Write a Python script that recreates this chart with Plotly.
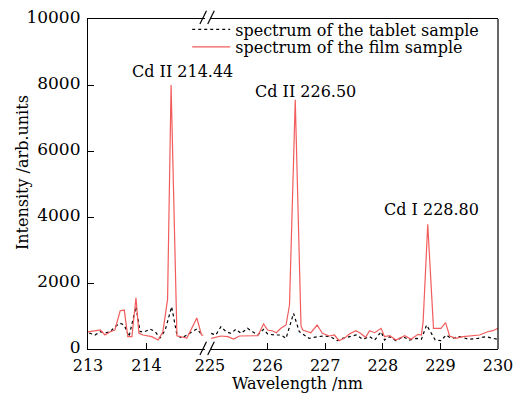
import plotly.graph_objects as go

# ---- data ----
film_wl_a = [213.00, 213.12, 213.21, 213.29, 213.38, 213.46, 213.55, 213.62, 213.68, 213.75,
             213.82, 213.87, 213.94, 214.09, 214.20, 214.28, 214.36, 214.42, 214.52, 214.69,
             214.86, 214.94, 214.97]
film_int_a = [520, 540, 576, 424, 524, 576, 1160, 1180, 373, 373,
              1555, 475, 424, 373, 273, 524, 1500, 8000, 400, 333,
              940, 424, 420]
tab_wl_a = [213.02, 213.12, 213.21, 213.29, 213.38, 213.46, 213.55, 213.62, 213.70, 213.82,
            213.89, 213.97, 214.06, 214.15, 214.23, 214.32, 214.43, 214.52, 214.60, 214.69,
            214.80, 214.86, 214.95]
tab_int_a = [485, 424, 524, 485, 524, 676, 778, 727, 373, 1282,
             524, 524, 606, 524, 333, 576, 1282, 424, 333, 424,
             524, 606, 424]

film_wl_b = [225.02, 225.19, 225.31, 225.41, 225.51, 225.65, 225.83, 225.93, 226.00, 226.09,
             226.15, 226.23, 226.32, 226.38, 226.48, 226.58, 226.61, 226.75, 226.86, 226.95,
             227.07, 227.16, 227.24, 227.33, 227.42, 227.53, 227.60, 227.70, 227.77, 227.86,
             227.97, 228.03, 228.12, 228.23, 228.38, 228.49, 228.61, 228.67, 228.70, 228.78,
             228.88, 229.01, 229.09, 229.16, 229.27, 229.39, 229.56, 229.68, 229.82, 229.91,
             230.00]
film_int_b = [323, 394, 373, 303, 394, 403, 403, 757, 576, 545,
              494, 627, 727, 1333, 7550, 700, 576, 494, 727, 475,
              394, 424, 252, 323, 455, 555, 494, 354, 555, 494,
              627, 373, 403, 273, 403, 294, 445, 424, 828, 3780,
              627, 627, 797, 394, 323, 373, 394, 424, 524, 555,
              627]
tab_wl_b = [225.02, 225.10, 225.19, 225.28, 225.36, 225.45, 225.54, 225.65, 225.74, 225.83,
            225.93, 226.00, 226.12, 226.23, 226.32, 226.45, 226.55, 226.64, 226.72, 226.87,
            226.98, 227.09, 227.21, 227.30, 227.42, 227.54, 227.65, 227.77, 227.86, 227.97,
            228.03, 228.12, 228.23, 228.35, 228.46, 228.58, 228.67, 228.76, 228.91, 229.01,
            229.10, 229.19, 229.33, 229.50, 229.65, 229.79, 229.91, 230.00]
tab_int_b = [475, 424, 676, 524, 475, 597, 475, 627, 524, 424,
             597, 455, 424, 424, 323, 1080, 524, 424, 323, 373,
             394, 373, 252, 323, 373, 424, 294, 373, 273, 524,
             273, 373, 252, 373, 273, 323, 294, 727, 273, 252,
             424, 323, 373, 294, 323, 373, 323, 294]

# peak labels: text, label centre (wavelength, intensity)
peak_labels = ["Cd II 214.44", "Cd II 226.50", "Cd I 228.80"]
label_wl = [214.61, 226.65, 228.84]
label_int = [8420, 7790, 4240]

x_ticks_a = [213, 214]
x_ticks_b = [225, 226, 227, 228, 229, 230]
y_ticks = [0, 2000, 4000, 6000, 8000, 10000]
y_tick_text = [str(v) for v in y_ticks]

FONT = "DejaVu Serif"
RED = "#f25c5c"

fig = go.Figure()
fig.add_trace(go.Scatter(x=tab_wl_a, y=tab_int_a, mode="lines", xaxis="x", yaxis="y",
                         line=dict(color="black", width=1.2, dash="dot"),
                         name="spectrum of the tablet sample", legend="legend"))
fig.add_trace(go.Scatter(x=film_wl_a, y=film_int_a, mode="lines", xaxis="x", yaxis="y",
                         line=dict(color=RED, width=1.2),
                         name="spectrum of the film sample", legend="legend2"))
fig.add_trace(go.Scatter(x=tab_wl_b, y=tab_int_b, mode="lines", xaxis="x2", yaxis="y",
                         line=dict(color="black", width=1.2, dash="dot"),
                         showlegend=False))
fig.add_trace(go.Scatter(x=film_wl_b, y=film_int_b, mode="lines", xaxis="x2", yaxis="y",
                         line=dict(color=RED, width=1.2),
                         showlegend=False))

axis_common = dict(showline=True, linecolor="black", linewidth=1.2, mirror=True,
                   ticks="inside", ticklen=6, tickwidth=1.2, tickcolor="black",
                   showgrid=False, zeroline=False, ticklabelstandoff=2, automargin=False,
                   tickfont=dict(family=FONT, size=16, color="black"))

legend_common = dict(xanchor="left", yanchor="middle", bgcolor="rgba(0,0,0,0)",
                     font=dict(family=FONT, size=16, color="black"), itemwidth=38,
                     borderwidth=0)

fig.update_layout(
    width=518, height=395,
    margin=dict(l=88, r=20, t=19, b=46, autoexpand=False),
    paper_bgcolor="white", plot_bgcolor="white",
    font=dict(family=FONT, size=16, color="black"),
    xaxis=dict(domain=[0, 0.2854], range=[213, 215], tickvals=x_ticks_a, anchor="y", **axis_common),
    xaxis2=dict(domain=[0.2976, 1], range=[225, 230], tickvals=x_ticks_b, anchor="y", **axis_common),
    yaxis=dict(range=[0, 10000], tickvals=y_ticks, ticktext=y_tick_text, anchor="x",
               showline=True, linecolor="black", linewidth=1.2, mirror=False,
               ticks="inside", ticklen=6, tickwidth=1.2, tickcolor="black",
               showgrid=False, zeroline=False, ticklabelstandoff=3, ticklabelshift=-2,
               automargin=False,
               tickfont=dict(family=FONT, size=17, color="black")),
    legend=dict(x=0.242, y=0.968, **legend_common),
    legend2=dict(x=0.242, y=0.915, **legend_common),
    showlegend=True,
)

# axis titles
fig.add_annotation(text="Wavelength /nm", xref="paper", yref="paper", x=0.51, y=-0.1394,
                   xanchor="center", yanchor="bottom", showarrow=False,
                   font=dict(family=FONT, size=16))
fig.add_annotation(text="Intensity /arb.units", xref="paper", yref="paper", x=-0.161, y=0.536,
                   xanchor="center", yanchor="middle", textangle=-90, showarrow=False,
                   font=dict(family=FONT, size=16))

# right frame line
fig.add_shape(type="line", xref="paper", yref="paper", x0=1, x1=1, y0=0, y1=1,
              line=dict(color="black", width=1.2))

# axis break marks
for yb, yt in [(-0.018, 0.022), (0.985, 1.025)]:
    for x0 in (0.273, 0.292):
        fig.add_shape(type="line", xref="paper", yref="paper", x0=x0, x1=x0 + 0.016,
                      y0=yb, y1=yt, line=dict(color="black", width=1.2))

for label, lx, ly in zip(peak_labels, label_wl, label_int):
    ax_ref = "x" if lx < 220 else "x2"
    fig.add_annotation(text=label, x=lx, y=ly, xref=ax_ref, yref="y",
                       showarrow=False, xanchor="center", yanchor="middle",
                       font=dict(family=FONT, size=16))

fig.write_html("out.html")
